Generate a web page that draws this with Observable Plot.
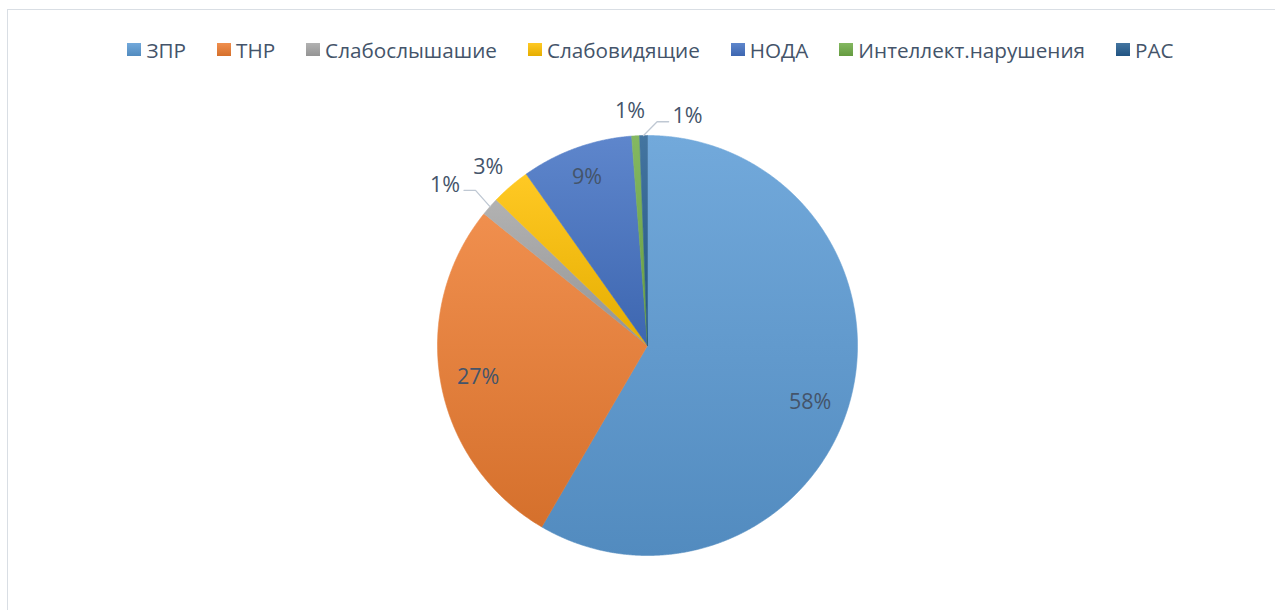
<!DOCTYPE html>
<html>
<head>
<meta charset="utf-8">
<script src="https://cdn.jsdelivr.net/npm/d3@7"></script>
<script src="https://cdn.jsdelivr.net/npm/@observablehq/plot@0.6"></script>
<style>
  html, body { margin: 0; padding: 0; background: #fff; }
  #wrap { position: relative; width: 1275px; height: 610px; overflow: hidden; font-family: "Open Sans", sans-serif; }
  #frame { position: absolute; left: 7px; top: 9px; width: 1400px; height: 800px; border: 1px solid #D9DEE4; box-sizing: border-box; pointer-events: none; }
  #legend { position: relative; width: 1301px; height: 80px; padding-top: 19px; box-sizing: border-box; display: flex; justify-content: center; align-items: center; gap: 31px; color: #44546A; font-size: 20.7px; }
  .item { display: flex; align-items: center; white-space: nowrap; }
  .sw { width: 14px; height: 13px; margin-right: 5px; }
  #chart { position: relative; }
</style>
</head>
<body>
<div id="wrap">
  <div id="frame"></div>
  <div id="legend"></div>
  <div id="chart"></div>
</div>
<script>
// ---- data ----
const categories = ["ЗПР", "ТНР", "Слабослышашие", "Слабовидящие", "НОДА", "Интеллект.нарушения", "РАС"];
const values = [58.4, 27.4, 1.4, 3.0, 8.6, 0.6, 0.6];

// ---- styles (kept apart from data) ----
const colors = ["#5B9BD5", "#ED7D31", "#A5A5A5", "#FFC000", "#4472C4", "#70AD47", "#255E91"];
// label placement: radius factor, angular offset (deg), leader line flag
const placement = [
  {r: 0.82, da: 4},
  {r: 0.82, da: 0},
  {r: 1.23, da: -3, leader: true},
  {r: 1.14, da: -1},
  {r: 0.85, da: 0},
  {r: 1.12, da: -1},
  {r: 1.107, da: 11, leader: true}
];

const topColor = c => d3.interpolateRgb(c, "#fff")(0.14);
const bottomColor = c => d3.color(c).darker(0.3).formatHex();

// ---- legend ----
const legend = document.getElementById("legend");
categories.forEach((c, i) => {
  const it = document.createElement("div");
  it.className = "item";
  const sw = document.createElement("span");
  sw.className = "sw";
  sw.style.background = `linear-gradient(${topColor(colors[i])}, ${bottomColor(colors[i])})`;
  const t = document.createElement("span");
  t.textContent = c;
  it.appendChild(sw); it.appendChild(t);
  legend.appendChild(it);
});

// ---- geometry from data ----
const total = d3.sum(values);
const slices = [];
let acc = 0;
values.forEach((v, i) => {
  const a0 = acc / total * 2 * Math.PI;
  acc += v;
  const a1 = acc / total * 2 * Math.PI;
  slices.push({i, cat: categories[i], v, a0, a1, mid: (a0 + a1) / 2});
});
const polar = (a, r) => ({x: r * Math.sin(a), y: r * Math.cos(a)});

const polyPts = [];
slices.forEach(s => {
  polyPts.push({i: s.i, ...polar(0, 0)});
  const n = Math.max(2, Math.ceil((s.a1 - s.a0) / (Math.PI / 720)));
  for (let k = 0; k <= n; k++) {
    const a = s.a0 + (s.a1 - s.a0) * k / n;
    polyPts.push({i: s.i, ...polar(a, 1)});
  }
  polyPts.push({i: s.i, ...polar(0, 0)});
});

const labels = slices.map(s => {
  const p = placement[s.i];
  const pos = polar(s.mid + p.da * Math.PI / 180, p.r);
  return {i: s.i, ...pos, text: Math.round(s.v / total * 100) + "%"};
});

const leaders = [];
slices.forEach(s => {
  const p = placement[s.i];
  if (!p.leader) return;
  const L = labels[s.i];
  const p0 = polar(s.mid, 1.0);
  const sign = L.x < p0.x ? 1 : -1;
  const p2 = {x: L.x + sign * 0.09, y: L.y - 0.025};
  const p1 = {x: p2.x + sign * 0.055, y: p2.y};
  leaders.push({i: s.i, ...p2}, {i: s.i, ...p1}, {i: s.i, ...p0});
});

// gradient defs mark
const defsMark = () => {
  const ns = "http://www.w3.org/2000/svg";
  const defs = document.createElementNS(ns, "defs");
  colors.forEach((c, i) => {
    const g = document.createElementNS(ns, "linearGradient");
    g.setAttribute("id", "grad" + i);
    g.setAttribute("x1", "0"); g.setAttribute("y1", "0");
    g.setAttribute("x2", "0"); g.setAttribute("y2", "1");
    const s0 = document.createElementNS(ns, "stop");
    s0.setAttribute("offset", "0");
    s0.setAttribute("stop-color", topColor(c));
    const s1 = document.createElementNS(ns, "stop");
    s1.setAttribute("offset", "1");
    s1.setAttribute("stop-color", bottomColor(c));
    g.appendChild(s0); g.appendChild(s1);
    defs.appendChild(g);
  });
  return defs;
};

const chart = Plot.plot({
  width: 1275,
  height: 530,
  margin: 0,
  style: {fontFamily: "'Open Sans', sans-serif", background: "transparent"},
  x: {domain: [-1, 1], range: [437, 857], axis: null},
  y: {domain: [-1, 1], range: [475, 55], axis: null},
  marks: [
    defsMark,
    Plot.line(polyPts, {
      x: "x", y: "y", z: "i",
      fill: d => `url(#grad${d.i})`,
      stroke: d => `url(#grad${d.i})`,
      strokeWidth: 0.6,
      curve: "linear"
    }),
    Plot.line(leaders, {x: "x", y: "y", z: "i", stroke: "#BFC8D3", strokeWidth: 1.3}),
    Plot.text(labels, {x: "x", y: "y", text: "text", fill: "#44546A", fontSize: 21.5})
  ]
});
document.getElementById("chart").appendChild(chart);
</script>
</body>
</html>
